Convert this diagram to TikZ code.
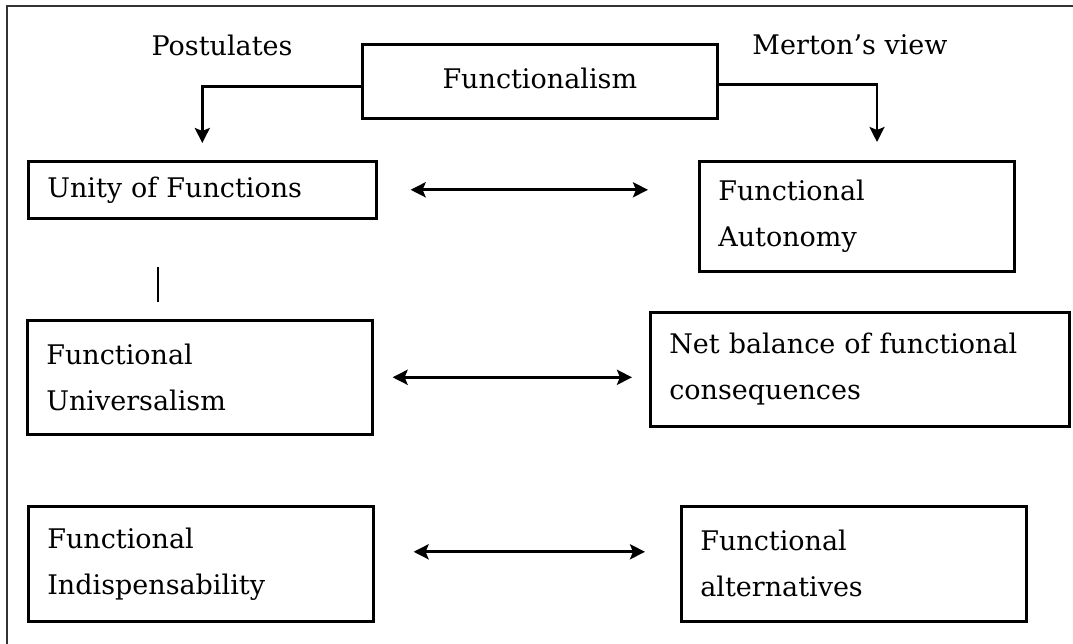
\documentclass[tikz,border=0pt]{standalone}
\usepackage{fontspec}
\setmainfont{DejaVu Serif}
\usetikzlibrary{arrows.meta}
\tikzset{
  box/.style={draw, line width=2.6pt, anchor=north west, align=left,
    inner xsep=19pt, inner ysep=0pt, font=\fontsize{27}{46}\selectfont},
  lbl/.style={font=\fontsize{27}{46}\selectfont},
  conn/.style={line width=2.6pt, -{Stealth[length=15pt,width=15pt,inset=3pt]}},
  biarrow/.style={line width=3pt,
    {Stealth[length=15pt,width=15pt,inset=3pt]}-{Stealth[length=15pt,width=15pt,inset=3pt]}}
}
\begin{document}
\begin{tikzpicture}[x=1pt, y=-1pt]
	\useasboundingbox (0,0) rectangle (1073,644);
	\draw[line width=2pt, black!80] (7,644) -- (7,6) -- (1073,6);
	% top: Functionalism and its two branches
	\node[box, align=center, text width=317pt, minimum height=74pt] (func) at (361,43) {\raisebox{7pt}{Functionalism}};
	\node[lbl] (post) at (222,45) {Postulates};
	\node[lbl] (merton) at (850,45) {Merton's view};
	\node[box, text width=310pt, minimum height=57pt] (unity) at (27,160) {Unity of Functions};
	\node[box, text width=277pt, minimum height=110pt] (auton) at (698,160) {Functional\\Autonomy};
	\node[box, text width=307pt, minimum height=114pt] (univ) at (26,319) {Functional\\Universalism};
	\node[box, text width=381pt, minimum height=114pt] (netbal) at (649,311) {Net balance of functional\\consequences};
	\node[box, text width=307pt, minimum height=115pt] (indisp) at (27,505) {Functional\\Indispensability};
	\node[box, text width=307pt, minimum height=115pt] (altern) at (680,505) {Functional\\alternatives};
	\coordinate (mertontip) at (877,142);
	\draw[conn] ([yshift=-5pt]func.west) -| ([yshift=17pt]unity.north);
	\draw[conn] ([yshift=-3pt]func.east) -| (mertontip);
	\draw[biarrow] ([xshift=33pt]unity.east) -- ([xshift=-50pt]unity.east -| auton.west);
	\draw[biarrow] ([xshift=19pt]univ.east) -- ([xshift=-17pt]univ.east -| netbal.west);
	\draw[biarrow] ([shift={(39pt,12pt)}]indisp.east) -- ([shift={(-35pt,12pt)}]indisp.east -| altern.west);
	\draw[line width=2pt] (158,267) -- (158,302);
\end{tikzpicture}
\end{document}
